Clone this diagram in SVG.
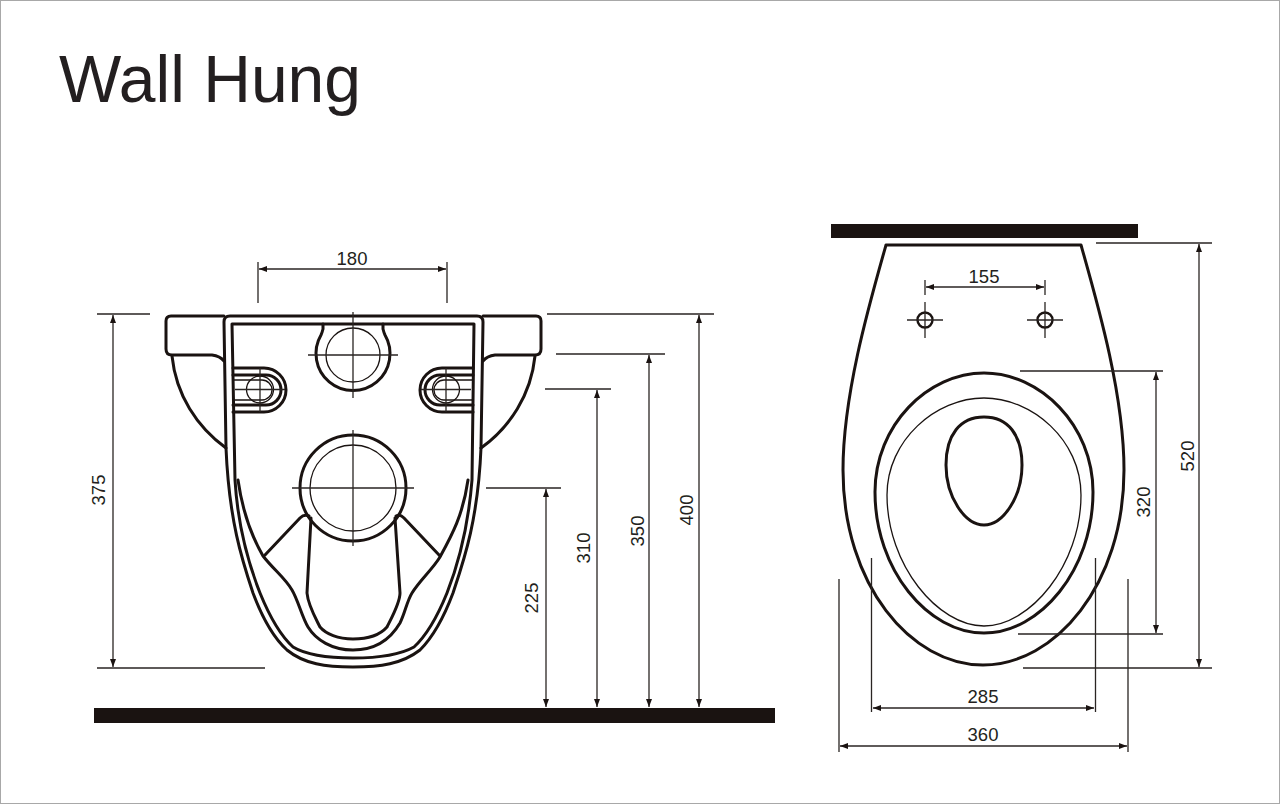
<svg xmlns="http://www.w3.org/2000/svg" width="1280" height="805" viewBox="0 0 1280 805">
<style>
.k{fill:none;stroke:#1a1311;stroke-linejoin:round;stroke-linecap:round}
.t3{stroke-width:3}.t2{stroke-width:2.4}.t1{stroke-width:1.3}
.d{fill:none;stroke:#2a2523;stroke-width:1.3}
.a{marker-start:url(#ah);marker-end:url(#ah)}
.bar{fill:#1a1311}
text{font-family:"Liberation Sans",Arial,sans-serif;fill:#231f20}
.n{font-size:18.5px;text-anchor:middle}
</style>
<defs>
<marker id="ah" viewBox="0 0 8 6" refX="8" refY="3" markerWidth="8" markerHeight="6" markerUnits="userSpaceOnUse" orient="auto-start-reverse"><path d="M0,0L8,3L0,6Z" fill="#1a1311"/></marker>
<g id="slot">
<path class="k t3" d="M233,368H264A22,22 0 0 1 264,412H233"/>
<path class="k t3" d="M233,375H266A15,15 0 0 1 266,405H233"/>
<path class="k t1" d="M233,380H262A10,10 0 0 1 262,400H233"/>
<circle class="k t1" cx="260" cy="389.500" r="13.500"/>
<path class="d" d="M235,389.500H285M260,368V412"/>
</g>
</defs>
<rect x="0.500" y="0.500" width="1279" height="803" fill="#fff" stroke="#a8a8a8"/>
<text id="title" x="59" y="102" font-size="66">Wall Hung</text>
<g id="front-view">
<path class="k t3" d="M224,316H171Q166,316 166,321V349Q166,355 172,355H212Q220,356 224,361"/>
<path class="k t3" d="M483,316H536Q541,316 541,321V349Q541,355 535,355H495Q487,356 483,361"/>
<path class="k t3" d="M172,356C176,395 197,427 226,448"/>
<path class="k t3" d="M535,356C531,395 510,427 481,448"/>
<path class="k t3" d="M230,316H477Q483,316 483,322L481,448C478,520 464,560 453,593C441,625 430,640 420,650C402,664 380,667 353,667C326,667 304,664 287,650C276,640 265,625 253,593C242,560 229,520 226,448L224,322Q224,316 230,316Z"/>
<path class="k t3" d="M232,324H474L472,480C468,530 458,565 447,593C436,620 426,636 414,647C398,656 376,658 353,658C330,658 308,656 293,647C281,636 271,620 260,593C249,565 238,530 235,480Z"/>
<path class="k t3" d="M238,480C243,515 252,537 263,556C274,570 285,578 292,590C298,600 302,617 308,627C316,640 332,650 353,650C374,650 390,640 400,623C405,613 407,601 412,593C420,580 432,570 440,557C452,535 463,515 468,480"/>
<path class="k t3" d="M265,555L300,518Q304,514 309,516"/>
<path class="k t3" d="M440,556L404,518Q400,514 396,516"/>
<path class="k t3" d="M311,518L307,593C308,605 315,617 320,627C326,634 338,639 353,639C368,639 380,635 387,627C392,617 400,603 400,593L395,518"/>
<path class="k t3" d="M323,324V329Q322,333 321,335A37,37 0 1 0 385,335Q384,333 383,329V324"/>
<circle class="k t1" cx="353" cy="355" r="27"/>
<path class="d" d="M308,355H398M353,312V398"/>
<circle class="k t3" cx="353" cy="488" r="53"/>
<circle class="k t1" cx="353" cy="488" r="43"/>
<path class="d" d="M292,488H414M353,430V546"/>
<use href="#slot"/>
<use href="#slot" transform="matrix(-1 0 0 1 706 0)"/>
</g>
<g id="top-view">
<path class="k t3" d="M886,245H1081C1098,305 1124,395 1124,470C1124,585 1055,665 983,665C911,665 843,585 843,470C843,395 869,305 886,245Z"/>
<path class="k t3" d="M984,373C1040,373 1093,425 1093,492C1093,570 1040,633 984,633C928,633 875,570 875,492C875,425 928,373 984,373Z"/>
<path class="k t1" d="M984,398C1032,398 1081,440 1081,495C1081,565 1030,626 984,626C938,626 887,565 887,495C887,440 936,398 984,398Z"/>
<path class="k t3" d="M984,417C1008,417 1022,435 1022,465C1022,497 1003,525 984,525C965,525 946,497 946,465C946,435 960,417 984,417Z"/>
<circle class="k t2" cx="925" cy="320" r="7.500"/>
<circle class="k t2" cx="1045" cy="320" r="7.500"/>
<path class="d" d="M907,320H943M925,302V338M1027,320H1063M1045,302V338" stroke-width="1.600"/>
</g>
<g id="floor"><rect class="bar" x="94" y="708" width="681" height="15"/></g>
<g id="wall"><rect class="bar" x="831" y="224" width="307" height="14"/></g>
<g id="connectors">
<path class="d" d="M258,262V303M447,262V303"/>
<line class="d a" x1="259" y1="269" x2="446" y2="269"/>
<path class="d" d="M97,314H150M97,668H265"/>
<line class="d a" x1="113" y1="315" x2="113" y2="667"/>
<path class="d" d="M486,488H561M545,389H611M556,354H665M547,314H714"/>
<line class="d a" x1="546" y1="489" x2="546" y2="707"/>
<line class="d a" x1="597" y1="390" x2="597" y2="707"/>
<line class="d a" x1="649" y1="355" x2="649" y2="707"/>
<line class="d a" x1="699" y1="315" x2="699" y2="707"/>
<path class="d" d="M925,280V295M1045,280V295"/>
<line class="d a" x1="926" y1="287" x2="1044" y2="287"/>
<path class="d" d="M1096,243H1212M1023,668H1212M1020,371H1163M1018,634H1163"/>
<line class="d a" x1="1199" y1="244" x2="1199" y2="667"/>
<line class="d a" x1="1156" y1="372" x2="1156" y2="633"/>
<path class="d" d="M871.500,558V712M1095.500,558V712M839,579V752M1128,579V752"/>
<line class="d a" x1="873" y1="708" x2="1094" y2="708"/>
<line class="d a" x1="840" y1="746" x2="1127" y2="746"/>
</g>
<g id="labels">
<text class="n" x="352" y="265">180</text>
<text class="n" x="984" y="283">155</text>
<text class="n" x="983" y="703">285</text>
<text class="n" x="983" y="741">360</text>
<text class="n" transform="translate(105,490) rotate(-90)">375</text>
<text class="n" transform="translate(538,598) rotate(-90)">225</text>
<text class="n" transform="translate(590,548) rotate(-90)">310</text>
<text class="n" transform="translate(644,531) rotate(-90)">350</text>
<text class="n" transform="translate(693,510) rotate(-90)">400</text>
<text class="n" transform="translate(1194,456) rotate(-90)">520</text>
<text class="n" transform="translate(1150,502) rotate(-90)">320</text>
</g>
</svg>
